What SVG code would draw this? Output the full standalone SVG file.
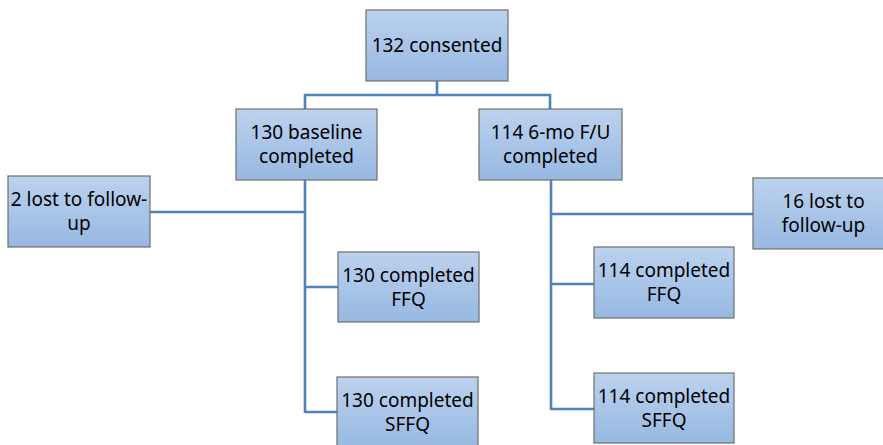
<svg xmlns="http://www.w3.org/2000/svg" width="883" height="445" viewBox="0 0 883 445">
<defs>
<linearGradient id="g" x1="0" y1="0" x2="0" y2="1">
<stop offset="0" stop-color="#bcd2ee"/>
<stop offset="1" stop-color="#97b8e2"/>
</linearGradient>
<style>
.box{fill:url(#g);stroke:#6e6e6e;stroke-width:1.2}
.t{font-family:"Noto Sans","Open Sans",sans-serif;font-size:19px;fill:#000;text-anchor:middle}
.c{stroke:#4f81bd;stroke-width:2.6;fill:none}
</style>
</defs>
<rect width="883" height="445" fill="#fff"/>
<g id="connectors">
<path class="c" d="M437 81V95M305 95H551M305 94V109M550 94V109"/>
<path class="c" d="M305 180V413M150 212H305M305 287H338M305 412H337"/>
<path class="c" d="M551 180V410M551 214H753M551 284H594M551 409H594"/>
</g>
<g id="n132">
<rect class="box" x="366" y="10" width="142" height="71"/>
<text class="t" x="437" y="52">132 consented</text>
</g>
<g id="n130base">
<rect class="box" x="236" y="109" width="141" height="71"/>
<text class="t" x="306.5" y="139">130 baseline</text>
<text class="t" x="306.5" y="163">completed</text>
</g>
<g id="n114fu">
<rect class="box" x="479" y="109" width="143" height="71"/>
<text class="t" x="550.5" y="139">114 6-mo F/U</text>
<text class="t" x="550.5" y="163">completed</text>
</g>
<g id="lost2">
<rect class="box" x="8" y="176" width="142" height="71"/>
<text class="t" x="79" y="206">2 lost to follow-</text>
<text class="t" x="79" y="230">up</text>
</g>
<g id="lost16">
<rect class="box" x="753" y="178" width="141" height="71"/>
<text class="t" x="823.5" y="208">16 lost to</text>
<text class="t" x="823.5" y="232">follow-up</text>
</g>
<g id="ffq130">
<rect class="box" x="338" y="252" width="141" height="70"/>
<text class="t" x="408.5" y="281.5">130 completed</text>
<text class="t" x="408.5" y="305.5">FFQ</text>
</g>
<g id="sffq130">
<rect class="box" x="337" y="377" width="141" height="71"/>
<text class="t" x="407.5" y="407">130 completed</text>
<text class="t" x="407.5" y="431">SFFQ</text>
</g>
<g id="ffq114">
<rect class="box" x="594" y="247" width="140" height="71"/>
<text class="t" x="664" y="277">114 completed</text>
<text class="t" x="664" y="301">FFQ</text>
</g>
<g id="sffq114">
<rect class="box" x="594" y="373" width="140" height="70"/>
<text class="t" x="664" y="402.5">114 completed</text>
<text class="t" x="664" y="426.5">SFFQ</text>
</g>
</svg>
